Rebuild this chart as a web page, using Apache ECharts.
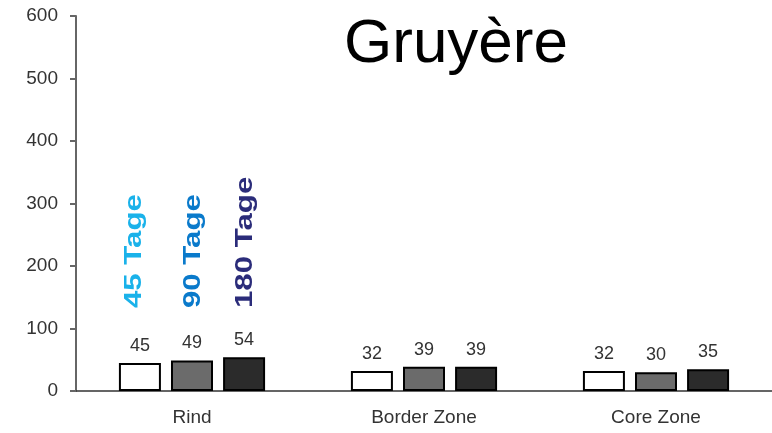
<!DOCTYPE html>
<html>
<head>
<meta charset="utf-8">
<script src="https://cdn.jsdelivr.net/npm/echarts@6/dist/echarts.min.js"></script>
<style>html,body{margin:0;padding:0;background:#fff}#c{width:772px;height:433px}</style>
</head>
<body>
<div id="c"></div>
<script>
const categories = ['Rind', 'Border Zone', 'Core Zone'];
const seriesNames = ['45 Tage', '90 Tage', '180 Tage'];
const values45 = [45, 32, 32];
const values90 = [49, 39, 30];
const values180 = [54, 39, 35];
const yTicks = [0, 100, 200, 300, 400, 500, 600];

const fills = ['#ffffff', '#6b6b6b', '#2b2b2b'];
const legendColors = ['#1ab2ea', '#0a7acb', '#2b2c7a'];
const font = 'Liberation Sans, Arial, sans-serif';

const chart = echarts.init(document.getElementById('c'));
const data = [values45, values90, values180];
const option = {
  animation: false,
  backgroundColor: '#fff',
  title: {
    text: 'Gruyère', left: 451, top: 9, textAlign: 'center',
    textStyle: { fontFamily: font, fontSize: 62, fontWeight: 'normal', color: '#000' }
  },
  grid: { left: 76, right: 0, top: 16, bottom: 42 },
  xAxis: {
    type: 'category', data: categories,
    axisLine: { lineStyle: { color: '#333', width: 1.5 } },
    axisTick: { show: false },
    axisLabel: { fontFamily: font, fontSize: 19, color: '#333', margin: 17 }
  },
  yAxis: {
    type: 'value', min: yTicks[0], max: yTicks[yTicks.length - 1], interval: 100,
    splitLine: { show: false },
    axisLine: { show: true, lineStyle: { color: '#666', width: 2 } },
    axisTick: { show: true, length: 6, lineStyle: { color: '#666', width: 2 } },
    axisLabel: { fontFamily: font, fontSize: 19, color: '#333', margin: 18 }
  },
  series: seriesNames.map((n, i) => ({
    name: n, type: 'bar', data: data[i],
    barWidth: 42, barGap: '24%',
    itemStyle: { color: fills[i], borderColor: '#000', borderWidth: 2 },
    label: { show: true, position: 'top', distance: 8, fontFamily: font, fontSize: 18, color: '#333' }
  }))
};
chart.setOption(option);

// vertical legend labels above the Rind group
const g = [];
const offsets = [-58, 1, 53];
seriesNames.forEach((n, i) => {
  const p = chart.convertToPixel({ xAxisIndex: 0 }, categories[0]);
  g.push({
    type: 'text', x: p + offsets[i], y: 308, rotation: Math.PI / 2, scaleX: 1.3,
    style: { text: n, fill: legendColors[i], font: 'bold 24px ' + font, textAlign: 'left', textVerticalAlign: 'middle' }
  });
});
chart.setOption({ graphic: g });
</script>
</body>
</html>
